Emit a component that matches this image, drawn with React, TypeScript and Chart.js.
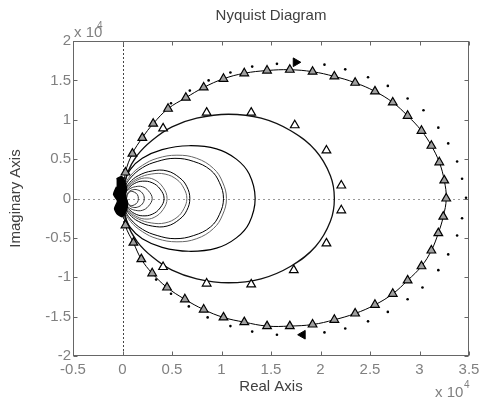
import React, { useEffect, useRef } from "react";
import { Chart, registerables } from "chart.js";
Chart.register(...registerables);

// ---- tick values ----
const xTicks = [-0.5, 0, 0.5, 1, 1.5, 2, 2.5, 3, 3.5];
const yTicks = [-2, -1.5, -1, -0.5, 0, 0.5, 1, 1.5, 2];
const titleText = "Nyquist Diagram";
const xTitle = "Real Axis";
const yTitle = "Imaginary Axis";

// ---- main (outer) response, triangles on the line (x 1e4) ----
const mainRe = [0.03, 0.10, 0.20, 0.31, 0.46, 0.64, 0.82, 1.02, 1.23, 1.46, 1.69, 1.92, 2.14, 2.35, 2.55, 2.73, 2.88, 3.02, 3.12, 3.20, 3.25, 3.27,
  3.24, 3.19, 3.12, 3.02, 2.88, 2.73, 2.55, 2.35, 2.14, 1.92, 1.69, 1.46, 1.23, 1.02, 0.82, 0.63, 0.45, 0.30, 0.19, 0.11, 0.03];
const mainIm = [0.33, 0.57, 0.77, 0.95, 1.14, 1.28, 1.41, 1.52, 1.59, 1.625, 1.635, 1.61, 1.55, 1.47, 1.36, 1.22, 1.05, 0.86, 0.67, 0.46, 0.23, 0.0,
  -0.23, -0.44, -0.66, -0.86, -1.04, -1.21, -1.35, -1.46, -1.54, -1.60, -1.62, -1.62, -1.57, -1.51, -1.41, -1.28, -1.13, -0.95, -0.77, -0.56, -0.34];

// ---- outer dotted response ----
const dotRe = [0.49, 0.68, 0.87, 1.09, 1.31, 1.56, 2.04, 2.25, 2.48, 2.68, 2.88, 3.04, 3.19, 3.29, 3.38, 3.43, 3.47,
  3.43, 3.38, 3.29, 3.19, 3.03, 2.88, 2.68, 2.48, 2.25, 2.04, 1.56, 1.31, 1.09, 0.86, 0.67, 0.49, 0.34];
const dotIm = [1.21, 1.37, 1.50, 1.60, 1.675, 1.71, 1.70, 1.64, 1.54, 1.43, 1.27, 1.12, 0.90, 0.70, 0.47, 0.25, 0.01,
  -0.25, -0.47, -0.71, -0.91, -1.13, -1.28, -1.44, -1.56, -1.65, -1.70, -1.73, -1.69, -1.62, -1.51, -1.37, -1.21, -1.03];

// ---- direction arrows ----
const arrowRe = [1.75, 1.82];
const arrowIm = [1.73, -1.73];

// ---- second response (line, upper half) ----
const secRe = [0.00, 0.05, 0.15, 0.30, 0.50, 0.75, 1.07, 1.40, 1.70, 1.95, 2.10, 2.14];
const secIm = [0.00, 0.32, 0.55, 0.74, 0.91, 1.02, 1.07, 1.02, 0.86, 0.61, 0.29, 0.00];

// ---- second response triangles (measured) ----
const secTriRe = [0.41, 0.85, 1.30, 1.74, 2.06, 2.21, 2.21, 2.06, 1.73, 1.30, 0.85, 0.41];
const secTriIm = [0.89, 1.09, 1.09, 0.93, 0.61, 0.165, -0.15, -0.57, -0.91, -1.09, -1.08, -0.87];

// ---- inner responses (upper halves) ----
const aRe = [0.00, 0.02, 0.08, 0.20, 0.40, 0.67, 0.95, 1.15, 1.28, 1.34];
const aIm = [0.00, 0.20, 0.37, 0.51, 0.62, 0.67, 0.63, 0.50, 0.31, 0.00];
const b1Re = [0.00, 0.02, 0.08, 0.20, 0.35, 0.55, 0.75, 0.92, 1.01, 1.05];
const b1Im = [0.00, 0.15, 0.29, 0.42, 0.51, 0.55, 0.51, 0.38, 0.21, 0.00];
const b2Re = [0.00, 0.02, 0.08, 0.20, 0.35, 0.53, 0.72, 0.89, 0.98, 1.02];
const b2Im = [0.00, 0.13, 0.26, 0.39, 0.47, 0.51, 0.47, 0.36, 0.20, 0.00];
const c1Re = [0.00, 0.02, 0.07, 0.16, 0.30, 0.45, 0.58, 0.65, 0.68];
const c1Im = [0.00, 0.10, 0.20, 0.29, 0.35, 0.35, 0.26, 0.15, 0.00];
const c2Re = [0.00, 0.02, 0.07, 0.16, 0.29, 0.43, 0.55, 0.62, 0.65];
const c2Im = [0.00, 0.09, 0.18, 0.26, 0.31, 0.31, 0.24, 0.13, 0.00];
const d1Re = [0.00, 0.02, 0.06, 0.13, 0.22, 0.32, 0.41, 0.45];
const d1Im = [0.00, 0.08, 0.15, 0.22, 0.26, 0.24, 0.14, 0.00];
const d2Re = [0.00, 0.02, 0.06, 0.12, 0.20, 0.30, 0.38, 0.42];
const d2Im = [0.00, 0.07, 0.13, 0.19, 0.22, 0.20, 0.12, 0.00];
const eRe = [0.01, 0.03, 0.07, 0.13, 0.20, 0.26, 0.30];
const eIm = [0.00, 0.07, 0.12, 0.15, 0.15, 0.10, 0.00];
const fRe = [0.03, 0.06, 0.10, 0.15, 0.20, 0.22];
const fIm = [0.00, 0.08, 0.11, 0.11, 0.07, 0.00];
const gRe = [0.04, 0.06, 0.09, 0.12, 0.15, 0.16];
const gIm = [0.00, 0.07, 0.09, 0.08, 0.05, 0.00];

// ---- dense cluster near the origin ----
const blobRe = [-0.06, -0.01, 0.02, 0.04, 0.03, 0.05, 0.04, 0.00, -0.05, -0.08, -0.05, -0.09, -0.06];
const blobIm = [0.25, 0.28, 0.22, 0.13, 0.04, -0.05, -0.15, -0.23, -0.20, -0.13, -0.03, 0.05, 0.15];

const pts = (re: number[], im: number[]) => re.map((r, i) => ({ x: r, y: im[i] }));
const closed = (re: number[], im: number[]) => {
  const up = pts(re, im);
  const low = re.map((r, i) => ({ x: r, y: -im[i] })).reverse();
  return [...up, ...low.slice(1)];
};

const FONT = "'Liberation Sans', Arial, Helvetica, sans-serif";

export default function App() {
  const ref = useRef<HTMLCanvasElement | null>(null);
  useEffect(() => {
    if (!ref.current) return;
    const lineDs = (data: any[], color: string, width = 1) => ({
      type: "scatter" as const,
      data,
      showLine: true,
      borderColor: color,
      borderWidth: width,
      pointRadius: 0,
      pointHoverRadius: 0,
      tension: 0.4,
      fill: false,
    });
    const frame = {
      id: "frame",
      beforeDatasetsDraw(chart: any) {
        const { ctx, chartArea: a, scales } = chart;
        const x0 = Math.round(scales.x.getPixelForValue(0)) + 0.5;
        const y0 = Math.round(scales.y.getPixelForValue(0)) + 0.5;
        ctx.save();
        ctx.lineWidth = 1;
        ctx.setLineDash([2, 2]);
        ctx.strokeStyle = "#444";
        ctx.beginPath();
        ctx.moveTo(x0, a.top);
        ctx.lineTo(x0, a.bottom);
        ctx.stroke();
        ctx.strokeStyle = "#999";
        ctx.setLineDash([2, 3]);
        ctx.beginPath();
        ctx.moveTo(a.left, y0);
        ctx.lineTo(a.right, y0);
        ctx.stroke();
        ctx.restore();
      },
      afterDatasetsDraw(chart: any) {
        const { ctx, chartArea: a, scales } = chart;
        ctx.save();
        ctx.strokeStyle = "#666";
        ctx.lineWidth = 1;
        const L = Math.round(a.left) + 0.5, R = Math.round(a.right) - 0.5;
        const T = Math.round(a.top) + 0.5, B = Math.round(a.bottom) - 0.5;
        ctx.strokeRect(L, T, R - L, B - T);
        ctx.beginPath();
        xTicks.forEach((v) => {
          const px = Math.round(scales.x.getPixelForValue(v)) + 0.5;
          ctx.moveTo(px, B); ctx.lineTo(px, B - 4);
          ctx.moveTo(px, T); ctx.lineTo(px, T + 4);
        });
        yTicks.forEach((v) => {
          const py = Math.round(scales.y.getPixelForValue(v)) + 0.5;
          ctx.moveTo(L, py); ctx.lineTo(L + 4, py);
          ctx.moveTo(R, py); ctx.lineTo(R - 4, py);
        });
        ctx.stroke();
        // tick labels
        ctx.fillStyle = "#808080";
        ctx.font = `15px ${FONT}`;
        ctx.textBaseline = "middle";
        ctx.textAlign = "center";
        xTicks.forEach((v) => {
          ctx.fillText(String(v), scales.x.getPixelForValue(v), a.bottom + 14);
        });
        ctx.textAlign = "right";
        yTicks.forEach((v) => {
          ctx.fillText(String(v), a.left - 2, scales.y.getPixelForValue(v));
        });
        ctx.restore();
      },
      afterDraw(chart: any) {
        const { ctx, chartArea: a } = chart;
        const cx = (a.left + a.right) / 2;
        const cy = (a.top + a.bottom) / 2;
        ctx.save();
        ctx.fillStyle = "#404040";
        ctx.font = `15px ${FONT}`;
        ctx.textAlign = "center";
        ctx.textBaseline = "middle";
        ctx.fillText(titleText, cx, 16);
        ctx.fillText(xTitle, cx, 387);
        ctx.save();
        ctx.translate(16, cy);
        ctx.rotate(-Math.PI / 2);
        ctx.fillText(yTitle, 0, 0);
        ctx.restore();
        ctx.fillStyle = "#808080";
        ctx.textAlign = "left";
        ctx.textBaseline = "alphabetic";
        ctx.font = `15px ${FONT}`;
        ctx.fillText("x 10", 74, 37);
        ctx.fillText("x 10", 435, 397);
        ctx.font = `10px ${FONT}`;
        ctx.fillText("4", 97, 29);
        ctx.fillText("4", 464, 388);
        ctx.restore();
      },
    };

    const chart = new Chart(ref.current, {
      type: "scatter",
      data: {
        datasets: [
          {
            data: pts(arrowRe.slice(0, 1), arrowIm.slice(0, 1)),
            pointStyle: "triangle", pointRotation: 90, pointRadius: 5,
            backgroundColor: "#000", borderColor: "#000", borderWidth: 1,
          },
          {
            data: pts(arrowRe.slice(1), arrowIm.slice(1)),
            pointStyle: "triangle", pointRotation: -90, pointRadius: 5,
            backgroundColor: "#000", borderColor: "#000", borderWidth: 1,
          },
          {
            data: pts(dotRe, dotIm),
            pointStyle: "circle", pointRadius: 1.3,
            backgroundColor: "#000", borderColor: "#000", borderWidth: 0,
          },
          {
            data: pts(secTriRe, secTriIm),
            pointStyle: "triangle", pointRadius: 5,
            backgroundColor: "#fff", borderColor: "#000", borderWidth: 1.2,
          },
          {
            data: pts(mainRe, mainIm),
            pointStyle: "triangle", pointRadius: 5,
            backgroundColor: "#a0a0a0", borderColor: "#000", borderWidth: 1.2,
          },
          {
            type: "scatter",
            data: pts(blobRe, blobIm),
            showLine: true, tension: 0.2,
            borderColor: "#000", borderWidth: 1.5,
            backgroundColor: "#000", fill: "shape", pointRadius: 0,
          },
          lineDs([{ x: 0, y: 0 }, ...pts(mainRe, mainIm), { x: 0, y: 0 }], "#000", 1),
          lineDs(closed(secRe, secIm), "#111", 1.3),
          lineDs(closed(aRe, aIm), "#000", 1.2),
          lineDs(closed(b1Re, b1Im), "#666", 1),
          lineDs(closed(b2Re, b2Im), "#000", 1),
          lineDs(closed(c1Re, c1Im), "#000", 1),
          lineDs(closed(c2Re, c2Im), "#666", 1),
          lineDs(closed(d1Re, d1Im), "#666", 1),
          lineDs(closed(d2Re, d2Im), "#000", 1),
          lineDs(closed(eRe, eIm), "#333", 1),
          lineDs(closed(fRe, fIm), "#333", 1),
          lineDs(closed(gRe, gIm), "#333", 1),
        ] as any,
      },
      options: {
        animation: false,
        responsive: false,
        devicePixelRatio: 1,
        events: [],
        layout: { padding: { top: 41, right: 10, left: 0, bottom: 0 } },
        plugins: { legend: { display: false }, tooltip: { enabled: false }, title: { display: false } },
        scales: {
          x: {
            type: "linear", min: -0.5, max: 3.5,
            afterFit: (s: any) => { s.height = 45; s.paddingLeft = 0; s.paddingRight = 0; },
            grid: { display: false },
            border: { display: false },
            ticks: { display: false },
          },
          y: {
            type: "linear", min: -2, max: 2,
            afterFit: (s: any) => { s.width = 73; s.paddingTop = 0; s.paddingBottom = 0; },
            grid: { display: false },
            border: { display: false },
            ticks: { display: false },
          },
        },
      },
      plugins: [frame],
    } as any);
    return () => chart.destroy();
  }, []);
  return (
    <div style={{ position: "fixed", left: 0, top: 0, width: 479, height: 401, background: "#fff" }}>
      <canvas ref={ref} width={479} height={401} style={{ display: "block" }} />
    </div>
  );
}
